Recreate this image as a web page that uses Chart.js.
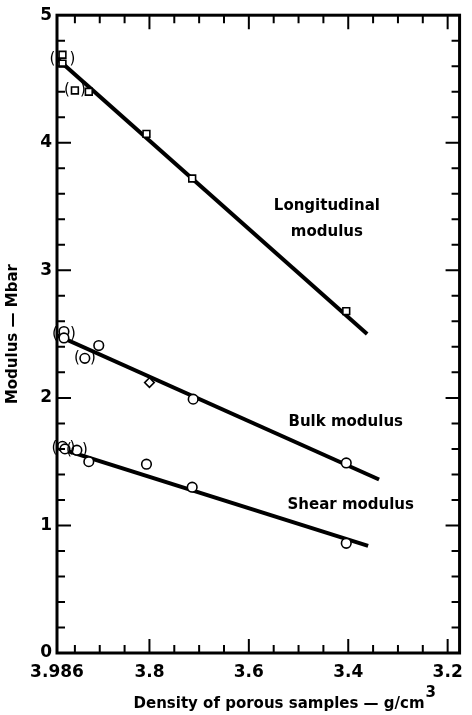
<!DOCTYPE html>
<html>
<head>
<meta charset="utf-8">
<script src="https://cdn.jsdelivr.net/npm/chart.js@4.4.1/dist/chart.umd.min.js"></script>
<style>
  html, body { margin: 0; padding: 0; background: #fff; }
  #wrap { width: 472px; height: 715px; }
</style>
</head>
<body>
<div id="wrap"><canvas id="modulusChart" width="472" height="715"></canvas></div>
<script>
// tick labels
const xTicks = [3.986, 3.8, 3.6, 3.4, 3.2];
const yTicks = [0, 1, 2, 3, 4, 5];

// longitudinal modulus (squares)
const longDensity = [3.975, 3.975, 3.950, 3.922, 3.806, 3.714, 3.404];
const longModulus = [4.69, 4.62, 4.41, 4.40, 4.07, 3.72, 2.68];

// bulk modulus (circles / diamond)
const bulkDensity = [3.972, 3.972, 3.930, 3.902, 3.800, 3.712, 3.404];
const bulkModulus = [2.52, 2.47, 2.31, 2.41, 2.12, 1.99, 1.49];

// shear modulus (circles)
const shearDensity = [3.975, 3.970, 3.946, 3.922, 3.806, 3.714, 3.404];
const shearModulus = [1.62, 1.60, 1.59, 1.50, 1.48, 1.30, 0.86];

// fitted lines, end points
const longFitX = [3.986, 3.362];
const longFitY = [4.66, 2.50];
const bulkFitX = [3.986, 3.338];
const bulkFitY = [2.49, 1.36];
const shearFitX = [3.986, 3.360];
const shearFitY = [1.61, 0.84];

const FONT = '"DejaVu Sans", Lato, sans-serif';

function pts(xs, ys) {
    return xs.map((x, i) => ({ x: x, y: ys[i] }));
}

// ticks pointing into the plot on all four sides + frame
const frameTicks = {
    id: 'frameTicks',
    afterDraw(chart) {
        const ctx = chart.ctx;
        const { left, right, top, bottom } = chart.chartArea;
        const xs = chart.scales.x;
        const ys = chart.scales.y;
        ctx.save();
        ctx.strokeStyle = '#000';
        ctx.lineWidth = 3;
        ctx.strokeRect(left, top, right - left, bottom - top);
        ctx.lineWidth = 2;
        ctx.beginPath();
        for (let v = 3.95; v > 3.17; v -= 0.05) {
            const val = Math.round(v * 100) / 100;
            const major = Math.abs(val * 5 - Math.round(val * 5)) < 1e-6;
            const len = major ? 14 : 8;
            const px = xs.getPixelForValue(val);
            if (px > right - 2) continue;
            ctx.moveTo(px, bottom); ctx.lineTo(px, bottom - len);
            ctx.moveTo(px, top); ctx.lineTo(px, top + len);
        }
        for (let v = 0.2; v < 5; v += 0.2) {
            const val = Math.round(v * 10) / 10;
            const major = Math.abs(val - Math.round(val)) < 1e-6;
            const len = major ? 14 : 8;
            const py = ys.getPixelForValue(val);
            ctx.moveTo(left, py); ctx.lineTo(left + len, py);
            ctx.moveTo(right, py); ctx.lineTo(right - len, py);
        }
        ctx.stroke();

        // x axis title with a raised "3"
        const main = 'Density of porous samples \u2014 g/cm';
        ctx.fillStyle = '#000';
        ctx.textBaseline = 'alphabetic';
        ctx.font = 'bold 15px ' + FONT;
        const w1 = ctx.measureText(main).width;
        ctx.font = 'bold 15px ' + FONT;
        const w2 = ctx.measureText('3').width;
        const x0 = (left + right) / 2 + 26 - (w1 + w2) / 2;
        ctx.textAlign = 'left';
        ctx.fillText(main, x0, 708);
        ctx.fillText('3', x0 + w1 + 1, 697);
        ctx.restore();
    }
};

// curve labels and parentheses around doubtful points
const annotations = {
    id: 'annotations',
    afterDatasetsDraw(chart) {
        const ctx = chart.ctx;
        const xs = chart.scales.x;
        const ys = chart.scales.y;
        ctx.save();
        ctx.fillStyle = '#000';
        ctx.font = 'bold 15px ' + FONT;
        ctx.textAlign = 'center';
        ctx.textBaseline = 'middle';
        const labels = [
            ['Longitudinal', 3.443, 3.50],
            ['modulus', 3.443, 3.30],
            ['Bulk modulus', 3.405, 1.81],
            ['Shear modulus', 3.395, 1.16]
        ];
        labels.forEach(([t, x, y]) => {
            ctx.fillText(t, xs.getPixelForValue(x), ys.getPixelForValue(y));
        });

        ctx.font = '15px ' + FONT;
        const parens = [
            [3.975, 4.655, 10],
            [3.950, 4.41, 8],
            [3.972, 2.50, 9],
            [3.930, 2.31, 8],
            [3.973, 1.61, 9],
            [3.946, 1.59, 8]
        ];
        parens.forEach(([x, y, gap]) => {
            const px = xs.getPixelForValue(x);
            const py = ys.getPixelForValue(y);
            ctx.fillText('(', px - gap, py);
            ctx.fillText(')', px + gap, py);
        });
        ctx.restore();
    }
};

function markerSet(data, style) {
    return {
        type: 'scatter',
        data: data,
        order: 1,
        pointStyle: style,
        pointRadius: 4.8,
        pointBackgroundColor: '#fff',
        pointBorderColor: '#000',
        pointBorderWidth: 1.6,
        showLine: false
    };
}

function fitLine(data) {
    return {
        type: 'line',
        data: data,
        order: 2,
        borderColor: '#000',
        borderWidth: 4,
        pointRadius: 0,
        showLine: true,
        fill: false
    };
}

const bulkStyles = ['circle', 'circle', 'circle', 'circle', 'rectRot', 'circle', 'circle'];

new Chart(document.getElementById('modulusChart'), {
    type: 'scatter',
    data: {
        datasets: [
            markerSet(pts(longDensity, longModulus), 'rect'),
            markerSet(pts(bulkDensity, bulkModulus), bulkStyles),
            markerSet(pts(shearDensity, shearModulus), 'circle'),
            fitLine(pts(longFitX, longFitY)),
            fitLine(pts(bulkFitX, bulkFitY)),
            fitLine(pts(shearFitX, shearFitY))
        ]
    },
    options: {
        responsive: false,
        animation: false,
        devicePixelRatio: 1,
        layout: { padding: { top: 15, right: 10, left: 0, bottom: 0 } },
        plugins: {
            legend: { display: false },
            tooltip: { enabled: false }
        },
        scales: {
            x: {
                type: 'linear',
                reverse: true,
                min: 3.176,
                max: 3.986,
                afterBuildTicks: (scale) => {
                    scale.ticks = xTicks.map(v => ({ value: v }));
                },
                afterFit: (scale) => { scale.height = 62; },
                grid: { display: false, drawTicks: false },
                border: { display: false },
                ticks: {
                    padding: 9,
                    color: '#000',
                    font: { family: FONT, size: 17, weight: 'bold' },
                    callback: (v) => (v === 3.986 ? '3.986' : v.toFixed(1))
                },
                title: { display: false }
            },
            y: {
                type: 'linear',
                min: 0,
                max: 5,
                afterBuildTicks: (scale) => {
                    scale.ticks = yTicks.map(v => ({ value: v }));
                },
                afterFit: (scale) => { scale.width = 57; },
                grid: { display: false, drawTicks: false },
                border: { display: false },
                ticks: {
                    padding: 5,
                    color: '#000',
                    font: { family: FONT, size: 17, weight: 'bold' }
                },
                title: {
                    display: true,
                    text: 'Modulus \u2014 Mbar',
                    color: '#000',
                    font: { family: FONT, size: 15, weight: 'bold' },
                    padding: { top: 4, bottom: 2 }
                }
            }
        }
    },
    plugins: [frameTicks, annotations]
});
</script>
</body>
</html>
